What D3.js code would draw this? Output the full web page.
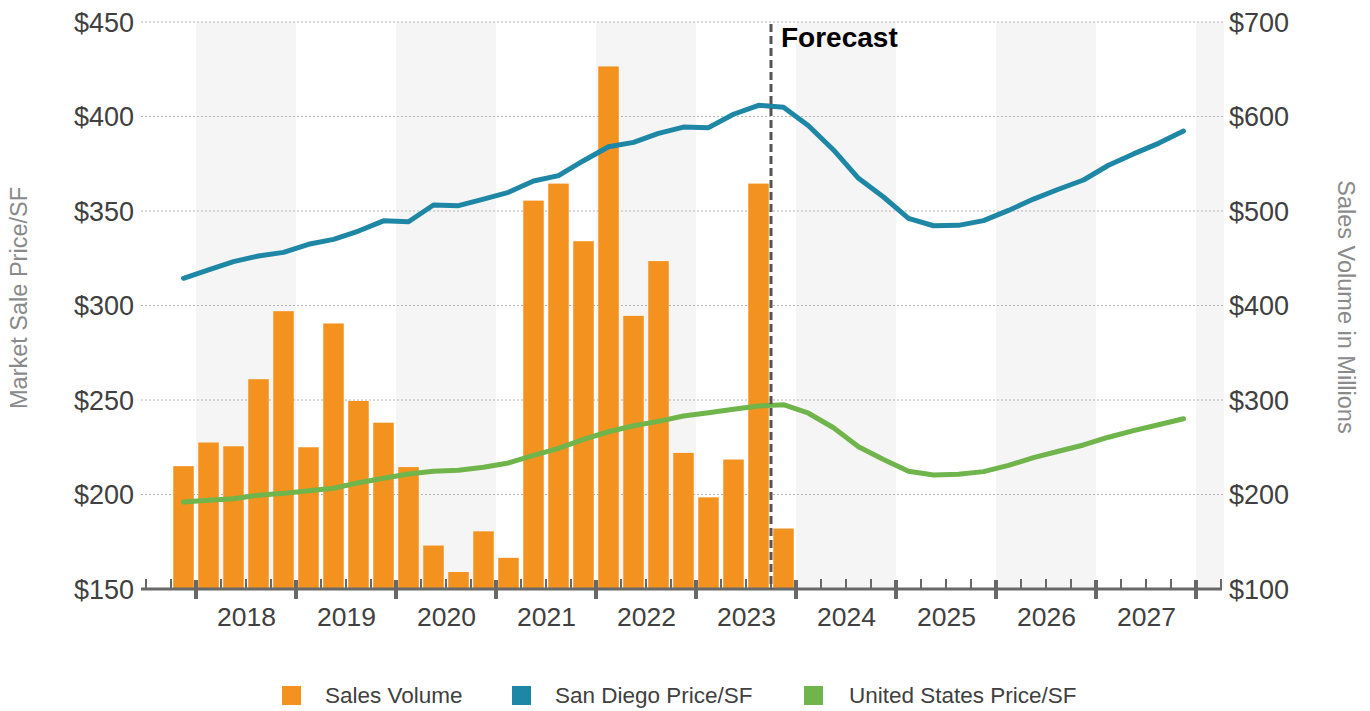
<!DOCTYPE html>
<html>
<head>
<meta charset="utf-8">
<script src="https://cdn.jsdelivr.net/npm/d3@7"></script>
<style>
  html, body { margin: 0; padding: 0; background: #fff; }
  svg { display: block; font-family: "Liberation Sans", Arial, sans-serif; }
</style>
</head>
<body>
<svg id="chart" width="1370" height="711"></svg>
<script>
// Quarterly periods for the price series (2017 Q4 – 2027 Q4)
const quarters = [
  "2017 Q4",
  "2018 Q1", "2018 Q2", "2018 Q3", "2018 Q4",
  "2019 Q1", "2019 Q2", "2019 Q3", "2019 Q4",
  "2020 Q1", "2020 Q2", "2020 Q3", "2020 Q4",
  "2021 Q1", "2021 Q2", "2021 Q3", "2021 Q4",
  "2022 Q1", "2022 Q2", "2022 Q3", "2022 Q4",
  "2023 Q1", "2023 Q2", "2023 Q3", "2023 Q4",
  "2024 Q1", "2024 Q2", "2024 Q3", "2024 Q4",
  "2025 Q1", "2025 Q2", "2025 Q3", "2025 Q4",
  "2026 Q1", "2026 Q2", "2026 Q3", "2026 Q4",
  "2027 Q1", "2027 Q2", "2027 Q3", "2027 Q4"
];

// Sales volume in $ millions (2017 Q4 – 2023 Q4)
const salesVolume = [
  230, 255, 251, 322, 394, 250, 381, 299, 276, 229, 146, 118, 161,
  133, 511, 529, 468, 653, 389, 447, 244, 197, 237, 529, 164
];

// Market sale price per SF
const sanDiegoPrice = [
  314.4, 318.8, 323.2, 326.2, 328.1, 332.4, 335.0, 339.4, 344.8, 344.3,
  353.2, 352.8, 356.3, 359.9, 365.9, 368.7, 376.6, 384.0, 386.3, 391.1,
  394.4, 394.1, 401.2, 405.9, 404.9, 395.1, 382.3, 367.3, 357.4, 346.1,
  342.2, 342.4, 344.9, 350.3, 356.3, 361.5, 366.4, 374.2, 380.2, 385.8, 392.3
];
const usPrice = [
  196.0, 196.9, 197.8, 199.6, 200.6, 202.0, 203.3, 206.2, 208.6, 210.8,
  212.3, 212.8, 214.4, 216.7, 220.7, 224.4, 229.2, 233.2, 236.4, 238.7,
  241.5, 243.3, 245.1, 246.8, 247.5, 243.0, 235.3, 225.3, 218.5, 212.3,
  210.3, 210.7, 212.1, 215.4, 219.5, 222.9, 226.2, 230.3, 233.8, 236.9, 240.1
];

const priceTicks = [150, 200, 250, 300, 350, 400, 450];
const volumeTicks = [100, 200, 300, 400, 500, 600, 700];
const years = [2018, 2019, 2020, 2021, 2022, 2023, 2024, 2025, 2026, 2027];
const shadedYears = [2018, 2020, 2022, 2024, 2026, 2028];
const forecastStart = "2023 Q4";

const legendItems = [
  { label: "Sales Volume", color: "#f3921f" },
  { label: "San Diego Price/SF", color: "#1f87a6" },
  { label: "United States Price/SF", color: "#70b54b" }
];

// ---- layout ----
const plotLeft = 141, plotRight = 1224, plotTop = 22, plotBottom = 589;
const svg = d3.select("#chart");

// time in fractional years; a quarter is 0.25 wide
const x = d3.scaleLinear().domain([2017.5, 2028.25]).range([146, 1221]);
const yPrice = d3.scaleLinear().domain([150, 450]).range([plotBottom, plotTop]);
const yVol = d3.scaleLinear().domain([100, 700]).range([plotBottom, plotTop]);

const qStart = s => { const [y, q] = s.split(" Q"); return +y + (+q - 1) * 0.25; };
const qCenter = s => qStart(s) + 0.125;
const qWidth = x(0.25) - x(0);
const barW = qWidth * 0.82;

// alternating year shading
svg.append("g").selectAll("rect").data(shadedYears).join("rect")
  .attr("x", d => x(d))
  .attr("y", plotTop)
  .attr("width", d => Math.min(x(d + 1), plotRight) - x(d))
  .attr("height", plotBottom - plotTop)
  .attr("fill", "#f5f5f5");

// dotted gridlines
svg.append("g").selectAll("line").data(priceTicks.filter(d => d !== 150)).join("line")
  .attr("x1", plotLeft).attr("x2", plotRight + 1)
  .attr("y1", d => yPrice(d)).attr("y2", d => yPrice(d))
  .attr("stroke", "#b4b4b4").attr("stroke-width", 1)
  .attr("stroke-dasharray", "2,2");

// sales volume bars
const barQuarters = quarters.slice(0, salesVolume.length);
svg.append("g").selectAll("rect").data(salesVolume).join("rect")
  .attr("x", (d, i) => x(qCenter(barQuarters[i])) - barW / 2)
  .attr("y", d => yVol(d))
  .attr("width", barW)
  .attr("height", d => yVol(100) - yVol(d))
  .attr("fill", legendItems[0].color);

// price lines
const line = d3.line()
  .x((d, i) => x(qCenter(quarters[i])))
  .y(d => yPrice(d));

svg.append("path").datum(sanDiegoPrice)
  .attr("d", line).attr("fill", "none")
  .attr("stroke", legendItems[1].color).attr("stroke-width", 5)
  .attr("stroke-linejoin", "round").attr("stroke-linecap", "round");

svg.append("path").datum(usPrice)
  .attr("d", line).attr("fill", "none")
  .attr("stroke", legendItems[2].color).attr("stroke-width", 5)
  .attr("stroke-linejoin", "round").attr("stroke-linecap", "round");

// x axis baseline and ticks
const axisG = svg.append("g");
axisG.append("line")
  .attr("x1", plotLeft).attr("x2", 1222)
  .attr("y1", plotBottom).attr("y2", plotBottom)
  .attr("stroke", "#686868").attr("stroke-width", 3);

const minorTicks = d3.range(2017.5, 2028.26, 0.25).filter(t => Math.abs(t - Math.round(t)) > 1e-6);
axisG.selectAll(".minor").data(minorTicks).join("line")
  .attr("class", "minor")
  .attr("x1", d => x(d)).attr("x2", d => x(d))
  .attr("y1", plotBottom - 10).attr("y2", plotBottom)
  .attr("stroke", "#686868").attr("stroke-width", 2);

const majorTicks = years.concat([2028]);
axisG.selectAll(".major").data(majorTicks).join("line")
  .attr("class", "major")
  .attr("x1", d => x(d)).attr("x2", d => x(d))
  .attr("y1", plotBottom - 9).attr("y2", plotBottom + 10)
  .attr("stroke", "#686868").attr("stroke-width", 4);

// year labels centred in each year
const yearAxis = d3.axisBottom(x)
  .tickValues(years.map(y => y + 0.5))
  .tickFormat(d => String(Math.floor(d)))
  .tickSize(0).tickPadding(0);
const yearG = svg.append("g").attr("transform", `translate(0,${plotBottom})`).call(yearAxis);
yearG.select(".domain").remove();
yearG.selectAll("text")
  .attr("y", 28).attr("dy", "0.35em")
  .attr("font-size", 26.5).attr("fill", "#404040")
  .attr("font-family", "Liberation Sans, Arial, sans-serif");

// left price axis
const leftAxis = d3.axisLeft(yPrice).tickValues(priceTicks)
  .tickFormat(d => "$" + d).tickSize(0).tickPadding(0);
const leftG = svg.append("g").attr("transform", "translate(134,0)").call(leftAxis);
leftG.select(".domain").remove();
leftG.selectAll("text")
  .attr("x", 0).attr("dy", "0.35em")
  .attr("font-size", 27).attr("fill", "#404040")
  .attr("font-family", "Liberation Sans, Arial, sans-serif");

// right volume axis
const rightAxis = d3.axisRight(yVol).tickValues(volumeTicks)
  .tickFormat(d => "$" + d).tickSize(0).tickPadding(0);
const rightG = svg.append("g").attr("transform", "translate(1229,0)").call(rightAxis);
rightG.select(".domain").remove();
rightG.selectAll("text")
  .attr("x", 0).attr("dy", "0.35em")
  .attr("font-size", 27).attr("fill", "#404040")
  .attr("font-family", "Liberation Sans, Arial, sans-serif");

// axis titles
svg.append("text")
  .attr("transform", "translate(27,298) rotate(-90)")
  .attr("text-anchor", "middle")
  .attr("font-size", 23.5).attr("fill", "#8a8a8a")
  .text("Market Sale Price/SF");

svg.append("text")
  .attr("transform", "translate(1338,307) rotate(90)")
  .attr("text-anchor", "middle")
  .attr("font-size", 23.5).attr("fill", "#8a8a8a")
  .text("Sales Volume in Millions");

// forecast divider
const fx = x(qStart(forecastStart));
svg.append("line")
  .attr("x1", fx).attr("x2", fx)
  .attr("y1", plotTop + 2).attr("y2", plotBottom)
  .attr("stroke", "#555").attr("stroke-width", 3)
  .attr("stroke-dasharray", "8,4");

svg.append("text")
  .attr("x", fx + 10).attr("y", 47)
  .attr("font-size", 28).attr("font-weight", "bold").attr("fill", "#000")
  .text("Forecast");

// legend
const legendX = [282, 512, 804];
const lg = svg.append("g").selectAll("g").data(legendItems).join("g")
  .attr("transform", (d, i) => `translate(${legendX[i]},686)`);
lg.append("rect").attr("width", 19).attr("height", 19).attr("fill", d => d.color);
lg.append("text")
  .attr("x", (d, i) => i === 2 ? 45 : 43).attr("y", 9.5).attr("dy", "0.35em")
  .attr("font-size", 22.5).attr("fill", "#404040")
  .text(d => d.label);
</script>
</body>
</html>
